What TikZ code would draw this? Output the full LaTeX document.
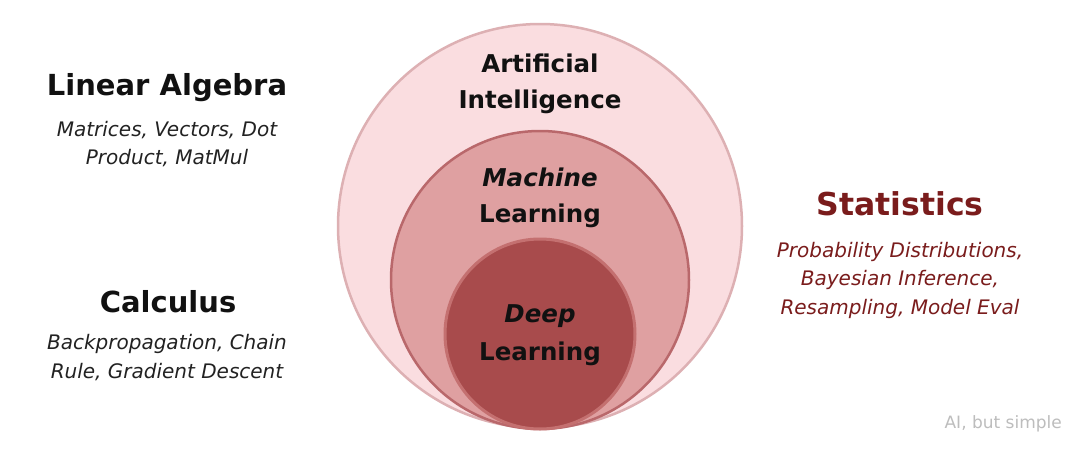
\documentclass[tikz,border=0pt]{standalone}
\usepackage{fontspec}
\setmainfont{DejaVu Sans}
\definecolor{aifill}{HTML}{FADDE0}
\definecolor{aistroke}{HTML}{DDB0B3}
\definecolor{mlfill}{HTML}{DFA0A1}
\definecolor{mlstroke}{HTML}{B9686B}
\definecolor{dlfill}{HTML}{A84B4C}
\definecolor{dlstroke}{HTML}{C47070}
\definecolor{statred}{HTML}{7A1C1C}
\definecolor{inkblack}{HTML}{111111}
\definecolor{subink}{HTML}{222222}
\definecolor{wmgray}{HTML}{BDBDBD}
\tikzset{
  ring/.style={circle, inner sep=0pt, line width=2.5pt},
  circlab/.style={anchor=base, inner sep=0pt, text=inkblack, font=\fontsize{24.5}{28}\selectfont\bfseries},
  circlabit/.style={circlab, font=\fontsize{24.5}{28}\selectfont\bfseries\itshape},
  heading/.style={anchor=base, inner sep=0pt, text=inkblack, font=\fontsize{29}{34}\selectfont\bfseries},
  subline/.style={anchor=base, inner sep=0pt, text=subink, font=\fontsize{20}{24}\selectfont\itshape},
  statheading/.style={heading, text=statred, font=\fontsize{31.5}{36}\selectfont\bfseries},
  statsub/.style={subline, text=statred},
  watermark/.style={anchor=base east, inner sep=0pt, text=wmgray, font=\fontsize{17}{20}\selectfont}
}
\begin{document}
\begin{tikzpicture}[x=1pt,y=-1pt]
\useasboundingbox (0,0) rectangle (1080,450);
\fill[white] (0,0) rectangle (1080,450);
% nested circles
\node[ring, minimum size=404pt, fill=aifill, draw=aistroke] (ai) at (540,226) {};
\node[ring, minimum size=298pt, fill=mlfill, draw=mlstroke] (ml) at (540,280) {};
\node[ring, minimum size=190pt, fill=dlfill, draw=dlstroke, line width=3pt] (dl) at (540,334) {};
% circle labels
\node[circlab] (ai1) at (540,72) {Artificial};
\node[circlab] (ai2) at (540,108) {Intelligence};
\node[circlabit] (ml1) at (540,186) {Machine};
\node[circlab] (ml2) at (540,222) {Learning};
\node[circlabit] (dl1) at (540,322) {Deep};
\node[circlab] (dl2) at (540,360) {Learning};
% left: linear algebra
\node[heading] (la) at (167,95) {Linear Algebra};
\node[subline] (la1) at (167,136) {Matrices, Vectors, Dot};
\node[subline] (la2) at (167,164.5) {Product, MatMul};
% left: calculus
\node[heading] (ca) at (168,312) {Calculus};
\node[subline] (ca1) at (167,349.5) {Backpropagation, Chain};
\node[subline] (ca2) at (167,378) {Rule, Gradient Descent};
% right: statistics
\node[statheading] (st) at (900,215) {Statistics};
\node[statsub] (st1) at (900,257) {Probability Distributions,};
\node[statsub] (st2) at (900,285) {Bayesian Inference,};
\node[statsub] (st3) at (900,314) {Resampling, Model Eval};
% watermark
\node[watermark] (wm) at (1062,428) {AI, but simple};
\end{tikzpicture}
\end{document}
